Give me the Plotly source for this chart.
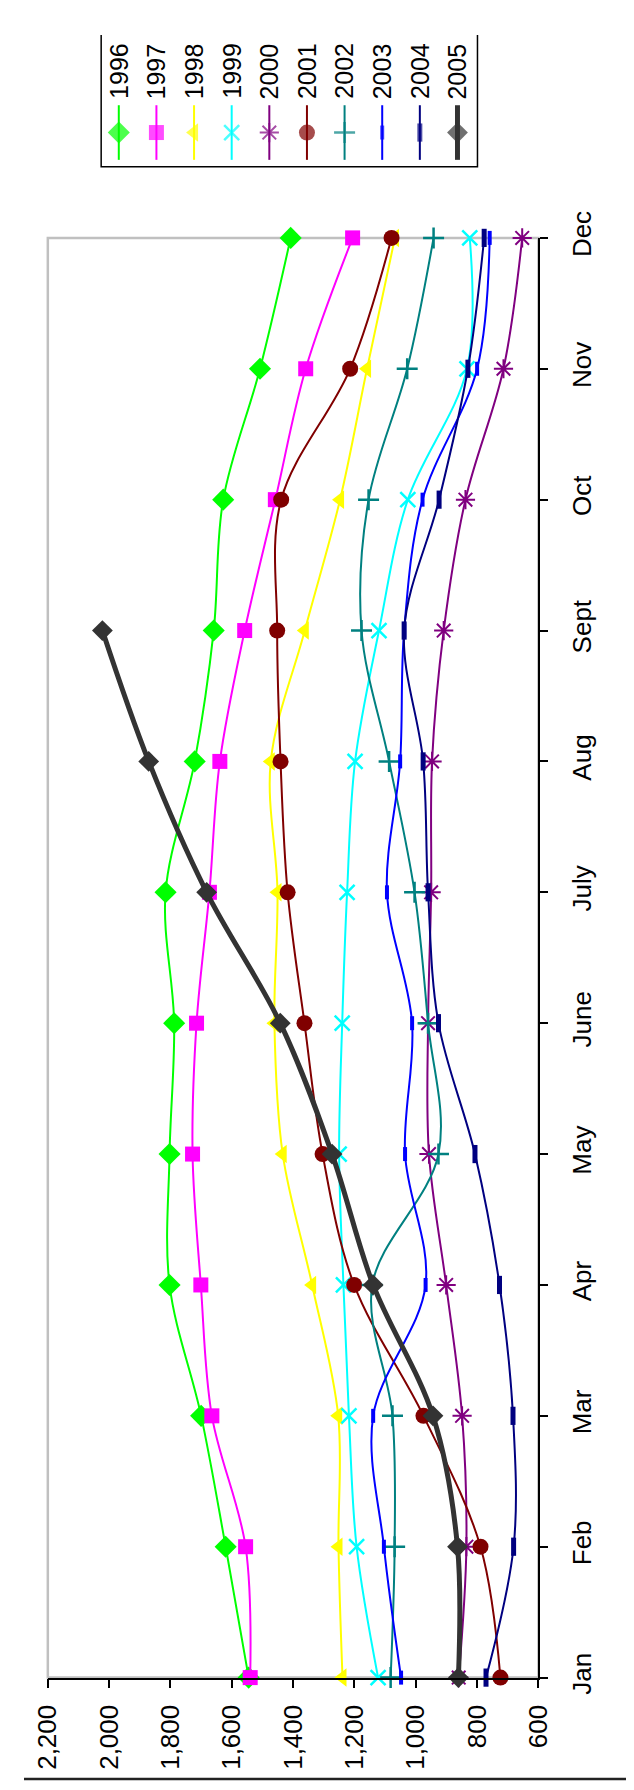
import plotly.graph_objects as go

W, H = 634, 1790

months = ["Jan", "Feb", "Mar", "Apr", "May", "June", "July", "Aug", "Sept", "Oct", "Nov", "Dec"]
years = ["1996", "1997", "1998", "1999", "2000", "2001", "2002", "2003", "2004", "2005"]

y1996 = [1545, 1620, 1700, 1803, 1803, 1788, 1816, 1721, 1659, 1628, 1508, 1408]
y1997 = [1540, 1555, 1665, 1701, 1728, 1715, 1673, 1639, 1558, 1458, 1359, 1206]
y1998 = [1239, 1252, 1253, 1338, 1434, 1461, 1451, 1473, 1362, 1247, 1159, 1068]
y1999 = [1123, 1193, 1218, 1236, 1250, 1240, 1224, 1198, 1120, 1026, 833, 824]
y2000 = [860, 835, 849, 901, 957, 960, 950, 947, 909, 838, 714, 653]
y2001 = [724, 789, 975, 1201, 1304, 1363, 1418, 1441, 1452, 1439, 1214, 1079]
y2002 = [1082, 1069, 1076, 1142, 926, 960, 1004, 1087, 1177, 1154, 1028, 942]
y2003 = [1048, 1104, 1139, 968, 1035, 1012, 1094, 1051, 1038, 978, 800, 759]
y2004 = [771, 681, 683, 727, 807, 926, 960, 976, 1038, 924, 830, 777]
y2005 = [861, 864, 944, 1139, 1273, 1442, 1682, 1871, 2022, None, None, None]

series = [y1996, y1997, y1998, y1999, y2000, y2001, y2002, y2003, y2004, y2005]

value_ticks = [600, 800, 1000, 1200, 1400, 1600, 1800, 2000, 2200]
value_tick_text = ["600", "800", "1,000", "1,200", "1,400", "1,600", "1,800", "2,000", "2,200"]

colors = ["#00FF00", "#FF00FF", "#FFFF00", "#00FFFF", "#800080",
          "#800000", "#008080", "#0000FF", "#000080", "#333333"]
symbols = ["diamond", "square", "triangle-left", "x-thin-open", "asterisk-open",
           "circle", "cross-thin-open", "line-ns-open", "line-ns-open", "diamond"]
msizes = [17, 15, 16, 15, 16, 16, 15, 10, 13, 16]
mlinew = [0, 0, 0, 2.5, 2, 0, 2.5, 4, 5, 0]
lwidths = [2, 2, 2, 2, 2, 2, 2, 2, 2, 5]

FONT = "Arial, Liberation Sans, sans-serif"

fig = go.Figure()

ypos = list(range(len(months)))
for i, (name, vals) in enumerate(zip(years, series)):
    fig.add_trace(go.Scatter(
        x=vals, y=ypos, mode="lines+markers", name=name,
        line=dict(color=colors[i], width=lwidths[i], shape="spline", smoothing=1.0),
        marker=dict(symbol=symbols[i], size=msizes[i], color=colors[i],
                    line=dict(color=colors[i], width=mlinew[i])),
        connectgaps=False, xaxis="x", yaxis="y", cliponaxis=False,
    ))

# Legend (manual, rotated text) in pixel-coordinate overlay axes
leg_x0, leg_dx = 99.5, 39.5
for i, name in enumerate(years):
    cx = leg_x0 + i * leg_dx
    fig.add_trace(go.Scatter(
        x=[cx, cx, cx], y=[72, 100, 128], mode="lines+markers",
        line=dict(color=colors[i], width=lwidths[i]),
        marker=dict(symbol=symbols[i], size=[0, msizes[i], 0], color=colors[i],
                    line=dict(color=colors[i], width=mlinew[i])),
        xaxis="x2", yaxis="y2", hoverinfo="skip", cliponaxis=False,
    ))
    fig.add_annotation(x=cx, y=37, xref="x2", yref="y2", text=name, showarrow=False,
                       textangle=-90, font=dict(family=FONT, size=25, color="black"),
                       xanchor="center", yanchor="middle")

px_l, px_r, px_t, px_b = 25, 540, 208, 1684

fig.update_layout(
    width=W, height=H,
    margin=dict(l=0, r=0, t=0, b=0),
    paper_bgcolor="white", plot_bgcolor="rgba(0,0,0,0)",
    showlegend=False,
    font=dict(family=FONT, size=26, color="black"),
    xaxis=dict(domain=[px_l / W, px_r / W], range=[2200, 600], anchor="y",
               tickvals=value_ticks, ticktext=value_tick_text, tickangle=-90,
               ticks="outside", ticklen=9, tickwidth=1.5, tickcolor="black",
               showline=True, linecolor="black", linewidth=1.5,
               showgrid=False, zeroline=False, ticklabelstandoff=6,
               tickfont=dict(family=FONT, size=26, color="black")),
    yaxis=dict(domain=[1 - px_b / H, 1 - px_t / H], range=[0, 11], anchor="x", side="right",
               tickvals=ypos, ticktext=months, tickangle=-90,
               ticks="outside", ticklen=8, tickwidth=1.5, tickcolor="black",
               showline=True, linecolor="black", linewidth=1.5,
               showgrid=False, zeroline=False, ticklabelstandoff=12,
               tickfont=dict(family=FONT, size=26, color="black")),
    xaxis2=dict(domain=[0, 1], range=[0, W], visible=False, anchor="y2"),
    yaxis2=dict(domain=[0, 1], range=[H, 0], visible=False, anchor="x2"),
)

# plot area gray frame
fig.add_shape(type="rect", xref="x domain", yref="y domain", x0=0, x1=1, y0=0, y1=1,
              line=dict(color="#C0C0C0", width=2.5), layer="below")
# legend box (its top edge lies above the picture, as in the reference)
fig.add_shape(type="path", xref="paper", yref="paper",
              path=f"M {81 / W},1.0 L {81 / W},{1 - 135 / H} L {476 / W},{1 - 135 / H} L {476 / W},1.0",
              line=dict(color="black", width=1.5), layer="below")
# chart area bottom border
fig.add_shape(type="line", xref="paper", yref="paper", x0=0, x1=1, y0=2 / H, y1=2 / H,
              line=dict(color="#222222", width=2.5))

fig.write_html("out.html")
